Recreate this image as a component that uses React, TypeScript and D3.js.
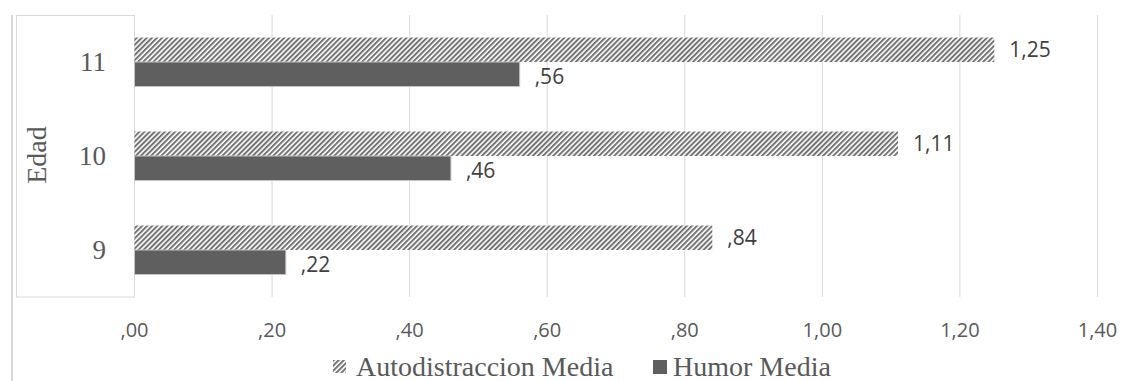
import React from "react";
import * as d3 from "d3";

const categories = ["11", "10", "9"];
const autodistraccion = [1.25, 1.11, 0.84];
const humor = [0.56, 0.46, 0.22];
const xTicks = [0, 0.2, 0.4, 0.6, 0.8, 1.0, 1.2, 1.4];
const seriesNames = ["Autodistraccion Media", "Humor Media"];

const W = 1132;
const H = 381;

const fmt = (v: number) => {
  const s = v.toFixed(2).replace(".", ",");
  return s.startsWith("0,") ? s.slice(1) : s;
};

export default function App() {
  const x = d3.scaleLinear().domain([0, 1.4]).range([134.5, 1097.5]);
  const y = d3
    .scaleBand<string>()
    .domain(categories)
    .range([15, 297])
    .paddingInner(0.479)
    .paddingOuter(0.2395);
  const sub = d3.scaleBand<number>().domain([0, 1]).range([0, y.bandwidth()]);

  const sans = "'Open Sans', sans-serif";
  const serif = "'Liberation Serif', 'Times New Roman', serif";

  return (
    <svg
      width={W}
      height={H}
      style={{ position: "absolute", left: 0, top: 0, background: "#fff" }}
    >
      <defs>
        <pattern
          id="hatch"
          patternUnits="userSpaceOnUse"
          width={3.6}
          height={3.6}
          patternTransform="rotate(45)"
        >
          <rect width={3.6} height={3.6} fill="#ffffff" />
          <rect width={2} height={3.6} fill="#737373" />
        </pattern>
      </defs>
      <rect x={0} y={0} width={W} height={H} fill="#fff" />
      {/* outer left border */}
      <line x1={12} x2={12} y1={15} y2={H} stroke="#d9d9d9" strokeWidth={2} />
      {/* category axis box */}
      <rect
        x={16.5}
        y={15.5}
        width={x(0) - 16.5}
        height={297 - 15.5}
        fill="none"
        stroke="#d9d9d9"
        strokeWidth={1}
      />
      {/* gridlines */}
      {xTicks.map((t) => (
        <line
          key={t}
          x1={x(t)}
          x2={x(t)}
          y1={15}
          y2={297}
          stroke="#d9d9d9"
          strokeWidth={1}
        />
      ))}
      {/* tick labels */}
      {xTicks.map((t) => (
        <text
          key={"l" + t}
          x={x(t)}
          y={337}
          textAnchor="middle"
          fontFamily={sans}
          fontSize={20}
          fill="#595959"
        >
          {fmt(t)}
        </text>
      ))}
      {/* bars */}
      {categories.map((c, i) => {
        const y0 = y(c)!;
        const ya = y0 + sub(0)!;
        const yh = y0 + sub(1)!;
        const bh = sub.bandwidth();
        return (
          <g key={c}>
            <rect
              x={x(0)}
              y={ya}
              width={x(autodistraccion[i]) - x(0)}
              height={bh}
              fill="url(#hatch)"
            />
            <rect
              x={x(0)}
              y={yh}
              width={x(humor[i]) - x(0)}
              height={bh}
              fill="#5f5f5f"
              stroke="#c4c4c4"
              strokeWidth={1}
            />
            <text
              x={x(autodistraccion[i]) + 15}
              y={ya + bh / 2}
              dy="0.36em"
              fontFamily={sans}
              fontSize={21}
              fill="#404040"
            >
              {fmt(autodistraccion[i])}
            </text>
            <text
              x={x(humor[i]) + 15}
              y={yh + bh / 2 + 2}
              dy="0.36em"
              fontFamily={sans}
              fontSize={21}
              fill="#404040"
            >
              {fmt(humor[i])}
            </text>
            <text
              x={106}
              y={y0 + y.bandwidth() / 2}
              dy="0.35em"
              textAnchor="end"
              fontFamily={serif}
              fontSize={27}
              fill="#595959"
            >
              {c}
            </text>
          </g>
        );
      })}
      {/* axis title */}
      <text
        transform={`translate(46,155) rotate(-90)`}
        textAnchor="middle"
        fontFamily={serif}
        fontSize={28}
        fill="#595959"
      >
        Edad
      </text>
      {/* legend */}
      <rect x={333} y={360} width={13} height={13} fill="url(#hatch)" />
      <text x={356} y={376} fontFamily={serif} fontSize={28} fill="#595959">
        {seriesNames[0]}
      </text>
      <rect x={653} y={360} width={14} height={14} fill="#5f5f5f" />
      <text x={673} y={376} fontFamily={serif} fontSize={28} fill="#595959">
        {seriesNames[1]}
      </text>
    </svg>
  );
}
